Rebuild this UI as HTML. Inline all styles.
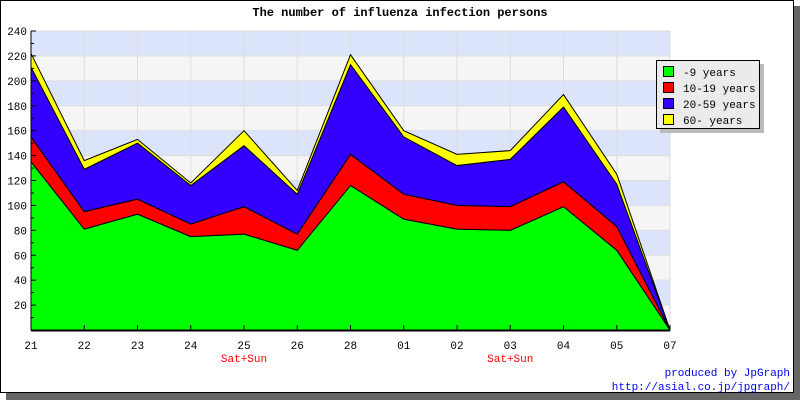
<!DOCTYPE html>
<html><head><meta charset="utf-8"><style>
body{margin:0;background:#fff}
svg{display:block;font-family:"Liberation Mono","DejaVu Sans Mono",monospace}
</style></head><body>
<svg id="c" width="800" height="400">
<rect x="6" y="6" width="794" height="394" fill="#666"/>
<rect x="0.5" y="0.5" width="793" height="392" fill="#fff" stroke="#000"/>
<text x="400" y="16" text-anchor="middle" font-weight="bold" font-size="12">The number of influenza infection persons</text>
<g id="bands"></g><g id="grid"></g><g id="areas"></g><g id="axes"></g>
<g>
<rect x="660" y="64" width="104" height="69" fill="#bbb"/>
<rect x="656.5" y="60.5" width="103" height="68" fill="#ebebeb" stroke="#000"/>
<g id="leg"></g>
</g>
<text x="790" y="376" text-anchor="end" font-size="11" fill="#0000ee">produced by JpGraph</text>
<text x="790" y="390" text-anchor="end" font-size="11" fill="#0000ee">http://asial.co.jp/jpgraph/</text>
</svg>
<script>
const categories=["21","22","23","24","25","26","28","01","02","03","04","05","07"];
const weekendLabels=["","","","","Sat+Sun","","","","","Sat+Sun","","",""];
const seriesNames=["-9 years","10-19 years","20-59 years","60- years"];
const age0=[135,81,93,75,77,64,116,89,81,80,99,64,0];
const age10=[20,14,12,10,22,13,25,20,19,19,20,19,0];
const age20=[56,34,45,31,49,32,72,46,32,38,60,34,0];
const age60=[11,7,3,2,12,3,8,5,9,7,10,8,0];
const yTicks=[20,40,60,80,100,120,140,160,180,200,220,240];
const colors=["#00ff00","#ff0000","#3300ff","#ffff00"];
const series=[age0,age10,age20,age60];
const NS="http://www.w3.org/2000/svg";
const X0=31,X1=670,Y0=330,Y1=31,YMAX=240;
const xs=i=>X0+(X1-X0)*i/(categories.length-1);
const ys=v=>Y0-(Y0-Y1)*v/YMAX;
function mk(t,a,p){const e=document.createElementNS(NS,t);for(const k in a)e.setAttribute(k,a[k]);p.appendChild(e);return e;}
const bands=document.getElementById('bands'),grid=document.getElementById('grid'),areas=document.getElementById('areas'),axes=document.getElementById('axes'),leg=document.getElementById('leg');
for(let v=0;v<YMAX;v+=20){
 const r=mk('rect',{x:X0,y:ys(v+20),width:X1-X0,height:ys(v)-ys(v+20),fill:(v/20)%2?'#dbe4fb':'#f5f5f5'},bands);
 
 
}
yTicks.forEach(v=>{const l=mk('line',{x1:X0,x2:X1,y1:ys(v),y2:ys(v),stroke:'#ddd'},grid);});
categories.forEach((c,i)=>{const l=mk('line',{x1:xs(i),x2:xs(i),y1:Y1,y2:Y0,stroke:'#ddd'},grid);});
let base=categories.map(()=>0);
series.forEach((s,k)=>{
 const top=s.map((v,i)=>base[i]+v);
 let pts=top.map((v,i)=>xs(i)+','+ys(v));
 for(let i=categories.length-1;i>=0;i--)pts.push(xs(i)+','+ys(base[i]));
 const p=mk('polygon',{points:pts.join(' '),fill:colors[k],stroke:'#000','stroke-width':1},areas);
 
 
 base=top;
});
const ya=mk('line',{x1:X0,x2:X0,y1:Y1,y2:Y0,stroke:'#000'},axes);
const xa=mk('line',{x1:X0,x2:X1,y1:Y0+0.5,y2:Y0+0.5,stroke:'#000','stroke-width':2},axes);
for(let v=0;v<=YMAX;v+=10){mk('line',{x1:X0,x2:X0+(v%20?3:5),y1:ys(v),y2:ys(v),stroke:'#000'},axes);}
yTicks.forEach(v=>{const t=mk('text',{x:X0-4,y:ys(v)+4,'text-anchor':'end','font-size':11},axes);t.textContent=v;});
categories.forEach((c,i)=>{
 mk('line',{x1:xs(i),x2:xs(i),y1:Y0,y2:Y0-5,stroke:'#000'},axes);
 const t=mk('text',{x:xs(i),y:349,'text-anchor':'middle','font-size':11},axes);t.textContent=c;
 if(weekendLabels[i]){const w=mk('text',{x:xs(i),y:362,'text-anchor':'middle','font-size':11,fill:'#ff0000'},axes);w.textContent=weekendLabels[i];}
});
seriesNames.forEach((n,k)=>{
 const y=66+k*16;
 const r=mk('rect',{x:663.5,y:y+0.5,width:10,height:10,fill:colors[k],stroke:'#000'},leg);
 const t=mk('text',{x:683,y:y+10,'font-size':11},leg);t.textContent=n;
});
</script>
</body></html>
